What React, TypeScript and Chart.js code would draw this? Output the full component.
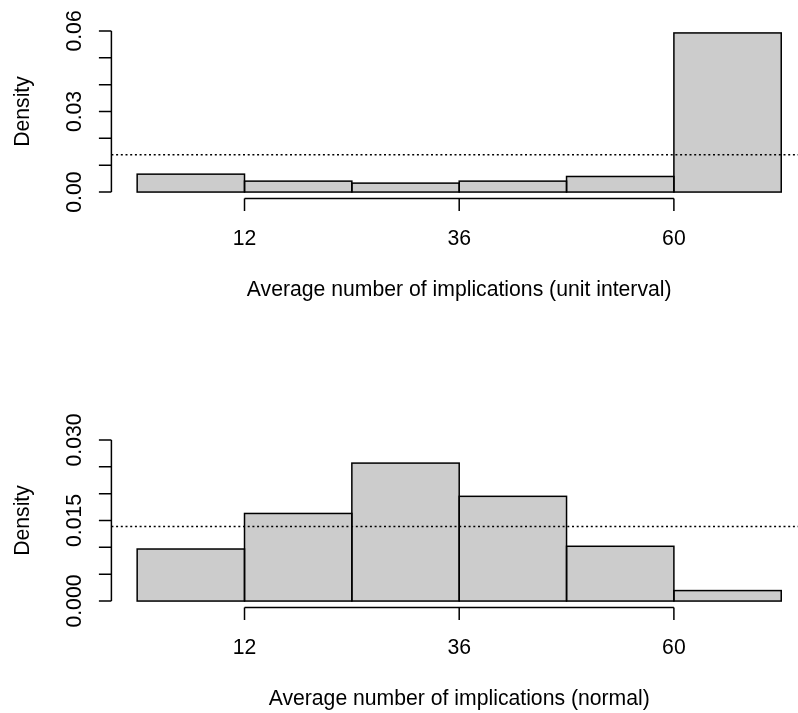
import React, { useEffect, useRef } from "react";
import { Chart, registerables } from "chart.js";

Chart.register(...registerables);

// ---------------- data ----------------
const binBreaks = [0, 12, 24, 36, 48, 60, 72];
const densityUnitInterval = [0.00667, 0.00407, 0.00333, 0.00407, 0.0058, 0.05926];
const densityNormal = [0.00969, 0.01631, 0.02569, 0.0195, 0.0102, 0.00195];
const uniformDensity = 1 / 72;
const xTickValues = [12, 36, 60];
const xTickLabels = ["12", "36", "60"];
const yTicksUnit = [0, 0.01, 0.02, 0.03, 0.04, 0.05, 0.06];
const yTickLabelsUnit = ["0.00", "", "", "0.03", "", "", "0.06"];
const yTicksNormal = [0, 0.005, 0.01, 0.015, 0.02, 0.025, 0.03];
const yTickLabelsNormal = ["0.000", "", "", "0.015", "", "", "0.030"];
const yLimUnit = [0, 0.06];
const yLimNormal = [0, 0.03];
const xTitleUnit = "Average number of implications (unit interval)";
const xTitleNormal = "Average number of implications (normal)";
const yTitle = "Density";

// ---------------- style ----------------
const FONT = '21.2px "Liberation Sans", Arial, Helvetica, sans-serif';
const LW = 1.5;
const FILL = "#CCCCCC";
const CANVAS_W = 820;
const PLOT_LEFT = 111.4;
const PLOT_RIGHT = 807;
const PLOT_TOP = 24.5;
const PLOT_H = 174;
const TICK = 12.5;

type PanelProps = {
  values: number[];
  yTicks: number[];
  yLabels: string[];
  yLim: number[];
  xTitle: string;
  top: number;
  height: number;
};

function Panel({ values, yTicks, yLabels, yLim, xTitle, top, height }: PanelProps) {
  const ref = useRef<HTMLCanvasElement | null>(null);

  useEffect(() => {
    const canvas = ref.current;
    if (!canvas) return;
    const mids = values.map((_, i) => (binBreaks[i] + binBreaks[i + 1]) / 2);
    const xMin = binBreaks[0];
    const xMax = binBreaks[binBreaks.length - 1];
    const xExt = (xMax - xMin) * 0.04;
    const yExt = (yLim[1] - yLim[0]) * 0.04;

    const rPlugin = {
      id: "rStyle",
      afterDatasetsDraw(chart: any) {
        const { ctx, chartArea } = chart;
        const xs = chart.scales.x;
        const ys = chart.scales.y;
        ctx.save();
        ctx.strokeStyle = "#000";
        ctx.fillStyle = "#000";
        ctx.lineWidth = LW;
        ctx.lineCap = "butt";

        // bar outlines
        const meta = chart.getDatasetMeta(0);
        meta.data.forEach((bar: any) => {
          const p = bar.getProps(["x", "y", "base", "width"], true);
          ctx.strokeRect(p.x - p.width / 2, p.y, p.width, p.base - p.y);
        });

        // dotted reference line
        ctx.save();
        ctx.beginPath();
        ctx.rect(chartArea.left, chartArea.top, chartArea.right - chartArea.left, chartArea.bottom - chartArea.top);
        ctx.clip();
        ctx.setLineDash([2, 2.7]);
        const yr = ys.getPixelForValue(uniformDensity);
        ctx.beginPath();
        ctx.moveTo(chartArea.left, yr);
        ctx.lineTo(chartArea.right, yr);
        ctx.stroke();
        ctx.restore();

        // y axis
        const left = chartArea.left;
        ctx.beginPath();
        ctx.moveTo(left, ys.getPixelForValue(yTicks[0]));
        ctx.lineTo(left, ys.getPixelForValue(yTicks[yTicks.length - 1]));
        yTicks.forEach((t) => {
          const py = ys.getPixelForValue(t);
          ctx.moveTo(left - TICK, py);
          ctx.lineTo(left, py);
        });
        ctx.stroke();

        // x axis
        const bottom = chartArea.bottom;
        ctx.beginPath();
        ctx.moveTo(xs.getPixelForValue(xTickValues[0]), bottom);
        ctx.lineTo(xs.getPixelForValue(xTickValues[xTickValues.length - 1]), bottom);
        xTickValues.forEach((t) => {
          const px = xs.getPixelForValue(t);
          ctx.moveTo(px, bottom);
          ctx.lineTo(px, bottom + TICK);
        });
        ctx.stroke();

        // text
        ctx.font = FONT;
        ctx.textAlign = "center";
        ctx.textBaseline = "alphabetic";
        xTickValues.forEach((t, i) => {
          ctx.fillText(xTickLabels[i], xs.getPixelForValue(t), bottom + 46);
        });
        ctx.fillText(xTitle, (chartArea.left + chartArea.right) / 2, bottom + 97.5);

        yTicks.forEach((t, i) => {
          if (!yLabels[i]) return;
          ctx.save();
          ctx.translate(left - 30.9, ys.getPixelForValue(t));
          ctx.rotate(-Math.PI / 2);
          ctx.fillText(yLabels[i], 0, 0);
          ctx.restore();
        });
        ctx.save();
        ctx.translate(left - 82, (chartArea.top + chartArea.bottom) / 2);
        ctx.rotate(-Math.PI / 2);
        ctx.fillText(yTitle, 0, 0);
        ctx.restore();

        ctx.restore();
      },
    };

    const chart = new Chart(canvas, {
      type: "bar",
      data: {
        datasets: [
          {
            data: mids.map((m, i) => ({ x: m, y: values[i] })),
            backgroundColor: FILL,
            borderWidth: 0,
            barPercentage: 1,
            categoryPercentage: 1,
            inflateAmount: 0,
          },
        ],
      },
      options: {
        responsive: false,
        animation: false,
        events: [],
        layout: {
          padding: {
            left: PLOT_LEFT,
            right: CANVAS_W - PLOT_RIGHT,
            top: PLOT_TOP,
            bottom: height - PLOT_TOP - PLOT_H,
          },
        },
        plugins: { legend: { display: false }, tooltip: { enabled: false }, title: { display: false } },
        scales: {
          x: {
            type: "linear",
            display: false,
            offset: false,
            min: xMin - xExt,
            max: xMax + xExt,
            afterBuildTicks: (scale: any) => {
              scale.ticks = binBreaks.map((v) => ({ value: v }));
            },
          },
          y: {
            type: "linear",
            display: false,
            min: yLim[0] - yExt,
            max: yLim[1] + yExt,
          },
        },
      },
      plugins: [rPlugin],
    } as any);

    return () => chart.destroy();
  }, [values, yTicks, yLabels, yLim, xTitle, height]);

  return (
    <canvas
      ref={ref}
      width={CANVAS_W}
      height={height}
      style={{ position: "absolute", left: 0, top, width: CANVAS_W, height, display: "block" }}
    />
  );
}

export default function App() {
  return (
    <div
      style={{
        position: "fixed",
        left: 0,
        top: 0,
        width: 798,
        height: 713,
        overflow: "hidden",
        background: "#fff",
      }}
    >
      <Panel
        values={densityUnitInterval}
        yTicks={yTicksUnit}
        yLabels={yTickLabelsUnit}
        yLim={yLimUnit}
        xTitle={xTitleUnit}
        top={0}
        height={409}
      />
      <Panel
        values={densityNormal}
        yTicks={yTicksNormal}
        yLabels={yTickLabelsNormal}
        yLim={yLimNormal}
        xTitle={xTitleNormal}
        top={409}
        height={304}
      />
    </div>
  );
}
